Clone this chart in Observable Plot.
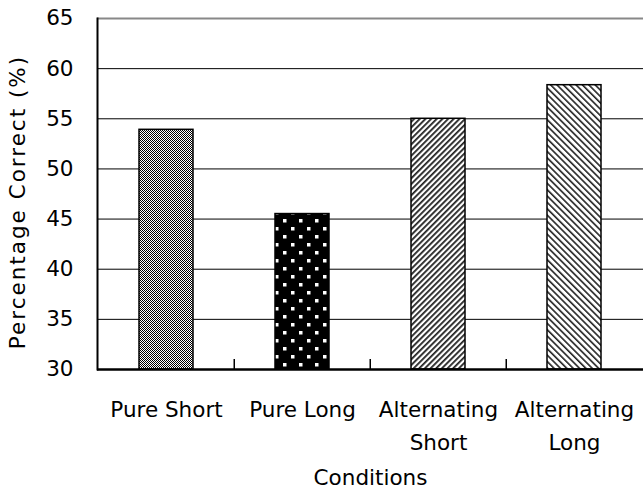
<!DOCTYPE html>
<html>
<head>
<meta charset="utf-8">
<script src="https://cdn.jsdelivr.net/npm/d3@7"></script>
<script src="https://cdn.jsdelivr.net/npm/@observablehq/plot@0.6"></script>
<style>
  html, body { margin: 0; padding: 0; background: #fff; }
  svg { display: block; }
</style>
</head>
<body>
<div id="chart"></div>
<script>
const conditions = ["Pure Short", "Pure Long", "Alternating Short", "Alternating Long"];
const tickLabels = ["Pure Short", "Pure Long", "Alternating\nShort", "Alternating\nLong"];
const values = [53.9, 45.5, 55.0, 58.35];
const patterns = ["url(#pat-dots)", "url(#pat-squares)", "url(#pat-fwd)", "url(#pat-back)"];
const yTicks = [30, 35, 40, 45, 50, 55, 60, 65];
const gridValues = [35, 40, 45, 50, 55, 60];
const topValue = [65];
const xTitle = "Conditions";
const yTitle = "Percentage Correct (%)";

const data = conditions.map((c, i) => ({condition: c, value: values[i], fill: patterns[i]}));

const W = 643, H = 491, mL = 97, mR = 0, mT = 18, mB = 122;
const pIn = 0.6, pOut = 0.3;
const step = (W - mL - mR) / (conditions.length - pIn + 2 * pOut);

const font = "DejaVu Sans, sans-serif";
const fs = 21.5;

const chart = Plot.plot({
  width: W,
  height: H,
  marginLeft: mL,
  marginRight: mR,
  marginTop: mT,
  marginBottom: mB,
  style: {fontFamily: font, fontSize: fs + "px", color: "#000", background: "#fff"},
  x: {domain: conditions, paddingInner: pIn, paddingOuter: pOut, label: null},
  y: {domain: [30, 65], label: null},
  color: {type: "identity"},
  marks: [
    Plot.ruleY(gridValues, {stroke: "#000", strokeWidth: 1}),
    Plot.ruleY(topValue, {stroke: "#888", strokeWidth: 2}),
    Plot.barY(data, {x: "condition", y1: 30, y2: "value", fill: "fill", stroke: "#000", strokeWidth: 1.5}),
    Plot.ruleX(conditions.slice(1), {y1: 30, y2: 31, stroke: "#000", strokeWidth: 1.5, dx: -step / 2}),
    Plot.ruleY([30], {stroke: "#000", strokeWidth: 2.5}),
    Plot.frame({anchor: "left", stroke: "#000", strokeWidth: 2}),
    Plot.axisY({ticks: yTicks, tickSize: 0, tickPadding: 24, label: null, fontSize: fs}),
    Plot.axisX({tickSize: 0, tickPadding: 25, label: null, fontSize: fs, lineHeight: 1.5,
      tickFormat: d => tickLabels[conditions.indexOf(d)]}),
    Plot.text([xTitle], {frameAnchor: "bottom", dy: 109, lineAnchor: "middle", textAnchor: "middle", fontSize: fs, text: d => d}),
    Plot.text([yTitle], {frameAnchor: "left", dx: -79, dy: 8, rotate: -90, lineAnchor: "middle", textAnchor: "middle", fontSize: fs, text: d => d})
  ]
});

const svg = d3.select(chart.tagName.toLowerCase() === "svg" ? chart : chart.querySelector("svg"));
svg.selectAll("text").filter(function() { return this.textContent === yTitle; })
  .attr("letter-spacing", "2px");

const defs = svg.insert("defs", ":first-child");

const p0 = defs.append("pattern").attr("id", "pat-dots").attr("patternUnits", "userSpaceOnUse")
  .attr("width", 2).attr("height", 2);
p0.append("rect").attr("width", 2).attr("height", 2).attr("fill", "#fff");
p0.append("rect").attr("width", 1).attr("height", 1).attr("fill", "#000").attr("shape-rendering", "crispEdges");
p0.append("rect").attr("x", 1).attr("y", 1).attr("width", 1).attr("height", 1).attr("fill", "#000").attr("shape-rendering", "crispEdges");

const p1 = defs.append("pattern").attr("id", "pat-squares").attr("patternUnits", "userSpaceOnUse")
  .attr("width", 16).attr("height", 16);
p1.append("rect").attr("width", 16).attr("height", 16).attr("fill", "#000");
p1.append("rect").attr("x", 3).attr("y", 3).attr("width", 3.5).attr("height", 3.5).attr("fill", "#fff");
p1.append("rect").attr("x", 11).attr("y", 11).attr("width", 3.5).attr("height", 3.5).attr("fill", "#fff");

const p2 = defs.append("pattern").attr("id", "pat-fwd").attr("patternUnits", "userSpaceOnUse")
  .attr("width", 4).attr("height", 4).attr("patternTransform", "rotate(45)");
p2.append("rect").attr("width", 4).attr("height", 4).attr("fill", "#fff");
p2.append("rect").attr("width", 1.8).attr("height", 4).attr("fill", "#222");

const p3 = defs.append("pattern").attr("id", "pat-back").attr("patternUnits", "userSpaceOnUse")
  .attr("width", 4.5).attr("height", 4.5).attr("patternTransform", "rotate(-45)");
p3.append("rect").attr("width", 4.5).attr("height", 4.5).attr("fill", "#fff");
p3.append("rect").attr("width", 1.6).attr("height", 4.5).attr("fill", "#222");

document.getElementById("chart").appendChild(chart);
</script>
</body>
</html>
